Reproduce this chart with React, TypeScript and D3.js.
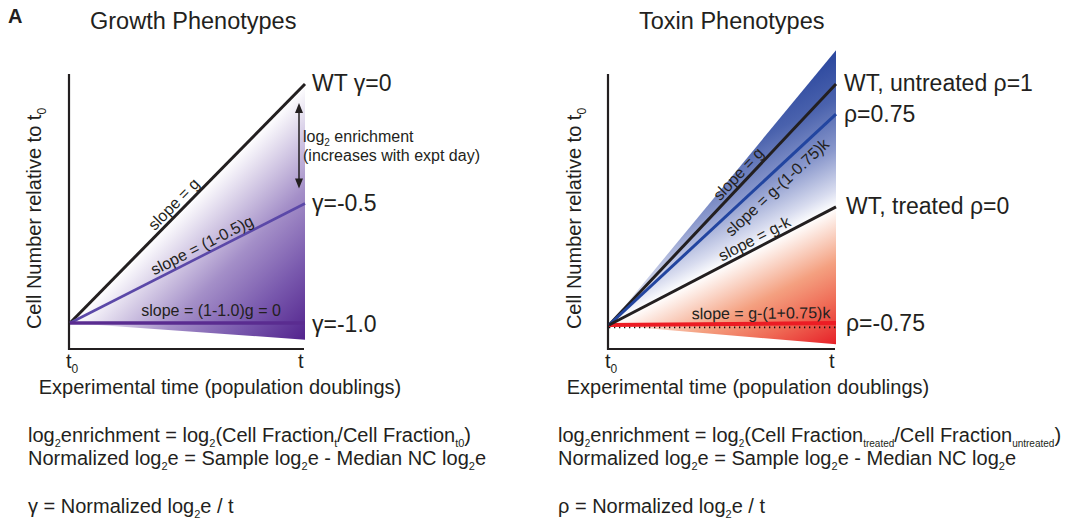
import React from "react";
import * as d3 from "d3";

// growth panel: relative slopes (units of g) of each phenotype line
const growthLabels = ["WT γ=0", "γ=-0.5", "γ=-1.0"];
const growthSlopes = [1, 0.5, 0];
const growthSlopeText = ["slope = g", "slope = (1-0.5)g", "slope = (1-1.0)g = 0"];
const growthWedgeBottom = -0.07;

// toxin panel
const toxinLabels = ["WT, untreated ρ=1", "ρ=0.75", "WT, treated ρ=0", "ρ=-0.75"];
const toxinSlopes = [1, 0.875, 0.49, 0.008];
const toxinSlopeText = ["slope = g", "slope = g-(1-0.75)k", "slope = g-k", "slope = g-(1+0.75)k"];
const toxinWedgeTop = 1.14;
const toxinWedgeBottom = -0.08;
const toxinZero = -0.01;

const xTickLabels = [["t", "0"], ["t", ""]];

const F = "'Liberation Sans', Arial, Helvetica, sans-serif";
const INK = "#231f20";

type Part = string | { sub: string };

const Rich = ({ x, y, size, parts, subSize, shift, ...rest }: any) => {
  let down = false;
  return (
    <text x={x} y={y} fontSize={size} fontFamily={F} fill={INK} {...rest}>
      {parts.map((p: Part, i: number) => {
        if (typeof p === "string") {
          const dy = down ? -shift : 0;
          down = false;
          return <tspan key={i} dy={dy} fontSize={size}>{p}</tspan>;
        }
        const dy = down ? 0 : shift;
        down = true;
        return <tspan key={i} dy={dy} fontSize={subSize}>{p.sub}</tspan>;
      })}
    </text>
  );
};

const along = (x: any, y: any, s: number, f: number) => {
  const ang = (Math.atan2(y(s) - y(0), x(1) - x(0)) * 180) / Math.PI;
  return `translate(${x(f)},${y(s * f)}) rotate(${ang})`;
};

// gradient running perpendicular to a reference line, from its end point to a corner
const perpGrad = (x: any, y: any, s: number, corner: number) => {
  const sx = x(1), sy = y(s);
  const lx = x(1) - x(0), ly = y(s) - y(0);
  const len = Math.hypot(lx, ly);
  const nx = -ly / len, ny = lx / len;
  const cx = x(1), cy = y(corner);
  const d = (cx - sx) * nx + (cy - sy) * ny;
  return { x1: sx, y1: sy, x2: sx + d * nx, y2: sy + d * ny };
};

const Frame = ({ x, title, titleX, labelX, xLabelCx }: any) => {
  const top = 74, bottom = 349;
  return (
    <g>
      <text x={titleX} y={29} fontSize={23.5} fontFamily={F} fill={INK}>{title}</text>
      <path d={`M${x(0) - 1},${top} V${bottom} H${x(1) - 1}`} fill="none" stroke={INK} strokeWidth={2.2} />
      {xTickLabels.map((t, i) => (
        <Rich key={i} x={i === 0 ? x(0) - 4 : x(1) - 7} y={368} size={20} subSize={12} shift={5}
          parts={t[1] ? [t[0], { sub: t[1] }] : [t[0]]} />
      ))}
      <text x={xLabelCx} y={394} fontSize={20} fontFamily={F} fill={INK} textAnchor="middle">
        Experimental time (population doublings)
      </text>
      <Rich x={0} y={0} size={20} subSize={12} shift={5} textAnchor="middle"
        transform={`translate(${labelX},${(top + bottom) / 2 + 7}) rotate(-90)`}
        parts={["Cell Number relative to t", { sub: "0" }]} />
    </g>
  );
};

const App = () => {
  const xL = d3.scaleLinear().domain([0, 1]).range([70, 305]);
  const yL = d3.scaleLinear().domain([0, 1]).range([323, 84]);
  const xR = d3.scaleLinear().domain([0, 1]).range([609, 836]);
  const yR = d3.scaleLinear().domain([0, 1]).range([325, 84]);
  const line = (x: any, y: any) => d3.line<[number, number]>().x((d) => x(d[0])).y((d) => y(d[1]));
  const lL = line(xL, yL);
  const lR = line(xR, yR);

  const gP = perpGrad(xL, yL, growthSlopes[0], growthWedgeBottom);
  const gB = perpGrad(xR, yR, toxinSlopes[2], toxinWedgeTop);
  const gRd = perpGrad(xR, yR, toxinSlopes[2], toxinWedgeBottom);

  const growthColors = [INK, "#5b48a8", "#5a2c90"];
  const growthWidths = [3, 2.6, 3.6];
  const growthDy = [7, 7, 9];
  const growthText = [
    { f: 0.47, off: -4 },
    { f: 0.58, off: -4 },
    { f: 0.6, off: -7 },
  ];
  const toxinColors = [INK, "#2245a0", INK, "#ec1c24"];
  const toxinWidths = [3, 3, 3, 4];
  const toxinDy = [7, 8, 7, 8];
  const toxinLx = [8, 8, 10, 10];
  const toxinText = [
    { f: 0.6, off: -4 },
    { f: 0.7, off: 19 },
    { f: 0.66, off: -4 },
    { f: 0.67, off: -5 },
  ];

  const ax = xL(1) - 6;
  const a1 = yL(growthSlopes[0]) + 19;
  const a2 = yL(growthSlopes[1]) - 15;

  return (
    <svg width={1092} height={525} style={{ position: "absolute", left: 0, top: 0, display: "block" }}>
      <defs>
        <linearGradient id="gPurple" gradientUnits="userSpaceOnUse" {...gP}>
          <stop offset="0" stopColor="#ffffff" />
          <stop offset="0.41" stopColor="#a48fc8" />
          <stop offset="0.69" stopColor="#7a5aae" />
          <stop offset="1" stopColor="#52238d" />
        </linearGradient>
        <linearGradient id="gBlue" gradientUnits="userSpaceOnUse" {...gB}>
          <stop offset="0" stopColor="#ffffff" />
          <stop offset="0.11" stopColor="#d8dcef" />
          <stop offset="0.37" stopColor="#8a98cc" />
          <stop offset="0.69" stopColor="#4a62ad" />
          <stop offset="1" stopColor="#2b479e" />
        </linearGradient>
        <linearGradient id="gRed" gradientUnits="userSpaceOnUse" {...gRd}>
          <stop offset="0" stopColor="#ffffff" />
          <stop offset="0.4" stopColor="#f4a080" />
          <stop offset="0.68" stopColor="#ef6a55" />
          <stop offset="1" stopColor="#e62028" />
        </linearGradient>
      </defs>

      <text x={8} y={23} fontSize={20} fontWeight="bold" fontFamily={F} fill={INK}>A</text>

      {/* Growth panel */}
      <Frame x={xL} title="Growth Phenotypes" titleX={90} labelX={41} xLabelCx={220} />
      <path
        d={`M${xL(0)},${yL(0)} L${xL(1)},${yL(growthSlopes[0])} L${xL(1)},${yL(growthWedgeBottom)} Z`}
        fill="url(#gPurple)"
      />
      {growthSlopes.map((s, i) => (
        <path key={i} d={lL([[0, 0], [1, s]]) as string} stroke={growthColors[i]} strokeWidth={growthWidths[i]} fill="none" />
      ))}
      {growthSlopes.map((s, i) => (
        <text key={i} x={xL(1) + 7} y={yL(s) + growthDy[i]} fontSize={23} fontFamily={F} fill={INK}>
          {growthLabels[i]}
        </text>
      ))}
      {growthSlopes.map((s, i) => (
        <text key={i} transform={along(xL, yL, s, growthText[i].f)} y={growthText[i].off}
          fontSize={16} fontFamily={F} fill={INK} textAnchor="middle">
          {growthSlopeText[i]}
        </text>
      ))}
      <line x1={ax} x2={ax} y1={a1 + 6} y2={a2 - 6} stroke={INK} strokeWidth={1.5} />
      <path d={`M${ax},${a1} l-4,10 h8 Z M${ax},${a2} l-4,-10 h8 Z`} fill={INK} />
      <Rich x={ax + 4} y={142} size={16} subSize={10} shift={4} parts={["log", { sub: "2" }, " enrichment"]} />
      <text x={ax + 4} y={161} fontSize={16} fontFamily={F} fill={INK}>(increases with expt day)</text>

      {/* Toxin panel */}
      <Frame x={xR} title="Toxin Phenotypes" titleX={639} labelX={581} xLabelCx={748} />
      <path
        d={`M${xR(0)},${yR(0)} L${xR(1)},${yR(toxinWedgeTop)} L${xR(1)},${yR(toxinSlopes[2])} Z`}
        fill="url(#gBlue)"
      />
      <path
        d={`M${xR(0)},${yR(0)} L${xR(1)},${yR(toxinSlopes[2])} L${xR(1)},${yR(toxinWedgeBottom)} Z`}
        fill="url(#gRed)"
      />
      <line x1={xR(0)} x2={xR(1)} y1={yR(toxinZero)} y2={yR(toxinZero)} stroke="#111" strokeWidth={1.8} strokeDasharray="1.3 3.7" />
      {[3, 0, 1, 2].map((i) => (
        <path key={i} d={lR([[0, 0], [1, toxinSlopes[i]]]) as string} stroke={toxinColors[i]} strokeWidth={toxinWidths[i]} fill="none" />
      ))}
      {toxinSlopes.map((s, i) => (
        <text key={i} x={xR(1) + toxinLx[i]} y={yR(s) + toxinDy[i]} fontSize={23} fontFamily={F} fill={INK}>
          {toxinLabels[i]}
        </text>
      ))}
      {toxinSlopes.map((s, i) => (
        <text key={i} transform={along(xR, yR, s, toxinText[i].f)} y={toxinText[i].off}
          fontSize={16} fontFamily={F} fill={INK} textAnchor="middle">
          {toxinSlopeText[i]}
        </text>
      ))}

      {/* Definitions */}
      <Rich x={28} y={442} size={20} subSize={11} shift={5}
        parts={["log", { sub: "2" }, "enrichment = log", { sub: "2" }, "(Cell Fraction", { sub: "t" }, "/Cell Fraction", { sub: "t0" }, ")"]} />
      <Rich x={28} y={465} size={20} subSize={11} shift={5}
        parts={["Normalized log", { sub: "2" }, "e = Sample log", { sub: "2" }, "e - Median NC log", { sub: "2" }, "e"]} />
      <Rich x={28} y={513} size={20} subSize={11} shift={5}
        parts={["γ = Normalized log", { sub: "2" }, "e / t"]} />
      <Rich x={558} y={442} size={20} subSize={10} shift={5}
        parts={["log", { sub: "2" }, "enrichment = log", { sub: "2" }, "(Cell Fraction", { sub: "treated" }, "/Cell Fraction", { sub: "untreated" }, ")"]} />
      <Rich x={558} y={465} size={20} subSize={11} shift={5}
        parts={["Normalized log", { sub: "2" }, "e = Sample log", { sub: "2" }, "e - Median NC log", { sub: "2" }, "e"]} />
      <Rich x={558} y={513} size={20} subSize={11} shift={5}
        parts={["ρ = Normalized log", { sub: "2" }, "e / t"]} />
    </svg>
  );
};

export default App;
